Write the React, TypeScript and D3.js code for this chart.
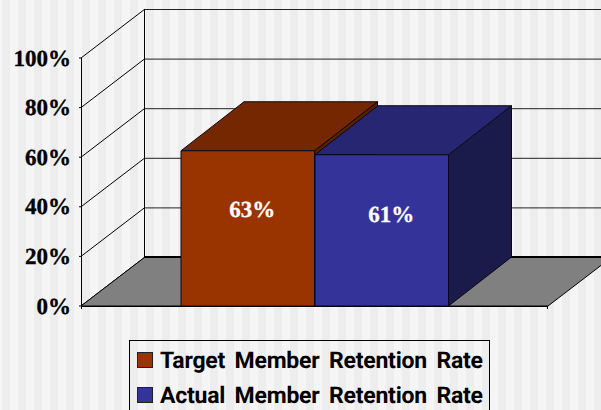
import React from "react";
import * as d3 from "d3";

const categories = ["Target Member Retention Rate", "Actual Member Retention Rate"];
const values = [0.626, 0.61];
const ticks = [0, 0.2, 0.4, 0.6, 0.8, 1];
const frontColors = ["#993300", "#333399"];
const topColors = ["#742700", "#262673"];
const sideColors = ["#5a1e00", "#1a1a4b"];

const W = 601, H = 410;
const DX = 64, DY = -49;
const y = d3.scaleLinear().domain([0, 1]).range([306, 58]);
const x = d3.scaleBand<string>().domain(["Member Retention"]).range([81, 548]);
const barLeft = d3.scaleOrdinal<string, number>().domain(categories).range([181, 315]);
const barW = 133.5;
const labelShift = [4.5, 9.5];
const labelBase = [217, 222];
const stripes = d3.range(-6, W, 8);
const stripeCols = ["#f5f5f5", "#ededed"];

const pts = (p: [number, number][]) => p.map(q => q.join(",")).join(" ");
const serif = "'Liberation Serif', 'Times New Roman', serif";

export default function App() {
  const x0 = x.range()[0], x1 = x.range()[1];
  return (
    <svg width={W} height={H} style={{ position: "fixed", left: 0, top: 0, display: "block" }} textRendering="geometricPrecision">
      {stripes.map((s, i) => (
        <rect key={i} x={s} y={0} width={8} height={H} fill={stripeCols[i % 2]} />
      ))}
      {ticks.map(t => (
        <g key={t}>
          {t > 0 && <line x1={x0 + DX} x2={W} y1={y(t) + DY + 0.5} y2={y(t) + DY + 0.5} stroke="#222" strokeWidth={1} />}
          <line x1={x0} y1={y(t)} x2={x0 + DX} y2={y(t) + DY} stroke="#000" strokeWidth={1} />
          <line x1={x0 - 2} x2={x0} y1={y(t)} y2={y(t)} stroke="#000" />
          <text x={71} y={y(t) + 7.5} textAnchor="end" fontFamily={serif} fontWeight="bold" fontSize={23} fill="#000" stroke="#000" strokeWidth={0.35}>
            {d3.format(".0%")(t)}
          </text>
        </g>
      ))}
      <line x1={x0 + 0.5} x2={x0 + 0.5} y1={y(1)} y2={y(0) + 3} stroke="#000" />
      <line x1={x0 + DX - 0.5} x2={x0 + DX - 0.5} y1={y(1) + DY} y2={y(0) + DY} stroke="#000" />
      <polygon
        points={pts([[x0, y(0)], [x0 + DX, y(0) + DY], [x1 + DX, y(0) + DY], [x1, y(0)]])}
        fill="#808080" stroke="#000" strokeWidth={1}
      />
      <line x1={x0 + DX} x2={W} y1={y(0) + DY} y2={y(0) + DY} stroke="#000" strokeWidth={2} />
      <line x1={x0} x2={x1} y1={y(0) + 0.5} y2={y(0) + 0.5} stroke="#000" />
      <line x1={x1 - 0.5} x2={x1 - 0.5} y1={y(0)} y2={y(0) + 3} stroke="#000" />
      {categories.map((c, i) => {
        const l = barLeft(c), r = l + barW, top = y(values[i]), bot = y(0);
        const dx = DX - 1;
        return (
          <g key={c} stroke="#0a0a14" strokeWidth={1} strokeLinejoin="round">
            <polygon points={pts([[r, top], [r + dx, top + DY], [r + dx, bot + DY], [r, bot]])} fill={sideColors[i]} />
            <polygon points={pts([[l, top], [l + dx, top + DY], [r + dx, top + DY], [r, top]])} fill={topColors[i]} />
            <rect x={l} y={top} width={barW} height={bot - top} fill={frontColors[i]} />
          </g>
        );
      })}
      {categories.map((c, i) => (
        <text key={c} x={barLeft(c) + barW / 2 + labelShift[i]} y={labelBase[i]} textAnchor="middle" fontFamily={serif} fontWeight="bold" fontSize={23} fill="#fff" stroke="#fff" strokeWidth={0.3}>
          {d3.format(".0%")(values[i])}
        </text>
      ))}
      <rect x={129.5} y={340.5} width={360} height={80} fill="none" stroke="#000" />
      {categories.map((c, i) => (
        <g key={c}>
          <rect x={137.5} y={352.5 + i * 35} width={15} height={15} fill={frontColors[i]} stroke="#222" />
          <text x={160} y={368 + i * 35} fontFamily="Roboto" fontWeight="bold" fontSize={23} wordSpacing={4} fill="#000" textLength={323} lengthAdjust="spacing">
            {c}
          </text>
        </g>
      ))}
    </svg>
  );
}
